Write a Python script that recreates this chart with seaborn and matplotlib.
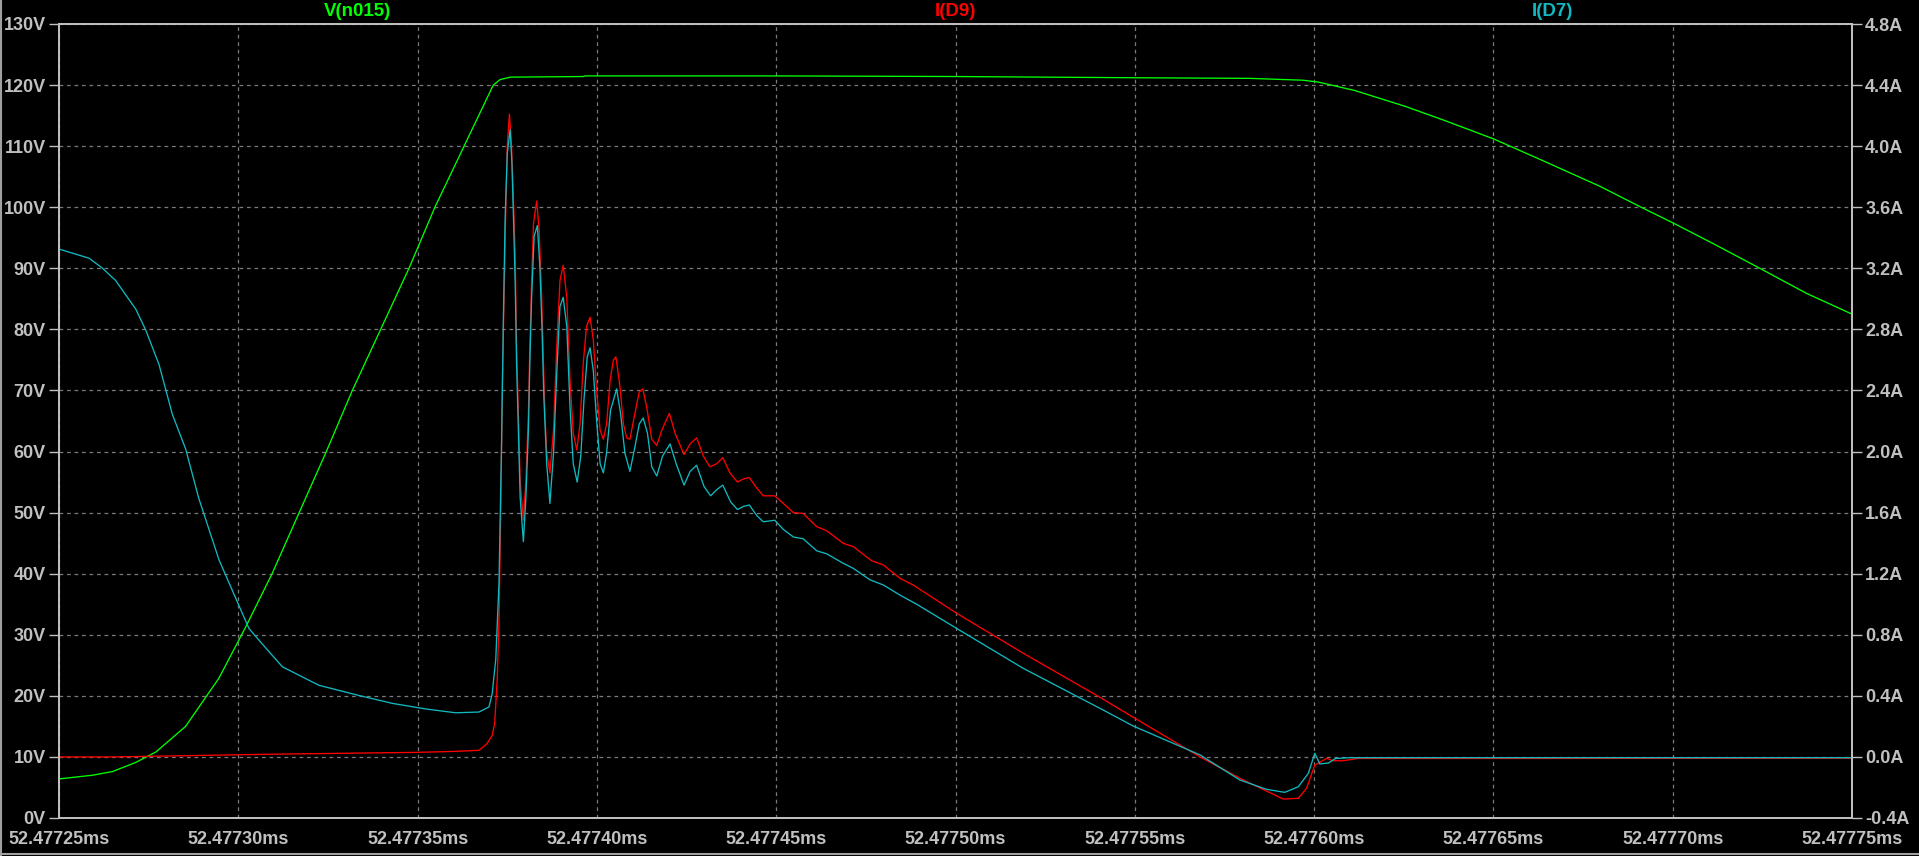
import matplotlib
matplotlib.use("Agg")
import matplotlib.pyplot as plt
from matplotlib.ticker import FuncFormatter, MultipleLocator
from matplotlib.lines import Line2D
import numpy as np
import pandas as pd
import seaborn as sns

# time is in ns after 52.47725ms
T0_MS = 52.47725

v_t = [0, 9.3, 14.9, 21.4, 27, 35.3, 44.6, 52, 59.5, 66.9, 74.4, 81.8, 89.7,
       97.6, 104.9, 112.8, 121.1, 123, 125.8, 146.2, 146.7, 200, 250, 300,
       332, 346.8, 351.1, 361.4, 375.5, 386.4, 400, 413.5, 429.8, 441.2,
       450.2, 462.4, 474.3, 487.3, 500]
v_n015 = [6.4, 7.0, 7.6, 9.1, 10.8, 15.0, 22.9, 31.2, 40.1, 49.9, 59.8, 70.0,
          80.0, 90.0, 100.1, 109.8, 120.0, 120.9, 121.3, 121.4, 121.5, 121.5,
          121.4, 121.2, 121.1, 120.8, 120.5, 119.1, 116.5, 114.2, 111.2,
          107.7, 103.4, 100.0, 97.4, 93.7, 90.0, 85.9, 82.5]

d9_t = [0, 15, 40, 60, 100, 110, 117.1, 119.2, 120.8, 121.5, 122.2, 122.7,
        123.2, 123.6, 124.1, 124.6, 125.0, 125.6, 126.2, 126.7, 127.2, 127.6,
        128.1, 128.6, 129.5, 130.2, 130.9, 131.3, 131.8, 132.3, 133.2, 133.9,
        134.6, 135.1, 135.5, 136.0, 136.9, 137.9, 138.8, 139.7, 140.6, 141.6,
        142.5, 143.4, 144.4, 145.3, 146.2, 147.1, 148.1, 149.0, 149.9, 150.9,
        151.8, 152.7, 153.7, 154.6, 155.3, 156.4, 157.4, 158.3, 159.2, 160.6,
        161.8, 162.8, 163.9, 165.3, 166.7, 168.1, 170.2, 171.8, 174.3, 176.0,
        177.8, 179.7, 181.5, 183.4, 185.1, 187.1, 189.2, 190.8, 192.5, 194.6,
        196.4, 199.6, 202.0, 204.8, 207.5, 211.3, 214.1, 218.7, 221.5, 226.6,
        229.9, 234.5, 238.2, 250.3, 268.9, 290.3, 299.6, 318.2, 329.3, 341.4,
        345.6, 347.9, 350.2, 351.1, 353.5, 355.3, 358.1, 362, 403, 500]
d9_i = [0.0, 0.0, 0.01, 0.018, 0.030, 0.036, 0.043, 0.083, 0.14, 0.22, 0.51,
        0.89, 1.64, 2.39, 3.0, 3.6, 4.0, 4.21, 4.0, 3.67, 3.3, 2.69, 2.25,
        1.81, 1.55, 1.81, 2.25, 2.69, 3.12, 3.49, 3.64, 3.45, 3.01, 2.58, 2.25,
        1.99, 1.86, 2.14, 2.69, 3.12, 3.22, 3.01, 2.47, 2.12, 2.01, 2.18, 2.58,
        2.82, 2.88, 2.73, 2.40, 2.14, 2.08, 2.18, 2.47, 2.60, 2.62, 2.43, 2.18,
        2.09, 2.08, 2.25, 2.39, 2.41, 2.29, 2.08, 2.04, 2.14, 2.25, 2.12, 1.98,
        2.05, 2.09, 1.97, 1.90, 1.92, 1.96, 1.86, 1.80, 1.82, 1.83, 1.76, 1.71,
        1.71, 1.66, 1.60, 1.595, 1.508, 1.481, 1.399, 1.377, 1.285, 1.257,
        1.17, 1.126, 0.941, 0.679, 0.39, 0.259, 0.0, -0.14, -0.276, -0.271,
        -0.205, -0.053, -0.042, -0.009, -0.025, -0.025, -0.01, -0.01, -0.008]

d7_t = [0, 8.4, 12.1, 15.8, 21.4, 24.2, 27.9, 31.6, 35.3, 39, 41.8, 44.6,
        50.2, 53, 57.6, 62.3, 72.5, 83.7, 92.9, 102.3, 110.6, 117.1, 119.9,
        120.8, 121.8, 122.7, 123.4, 123.9, 124.4, 125.0, 125.8, 126.3, 126.7,
        127.2, 127.6, 128.1, 128.6, 129.5, 130.2, 130.9, 131.3, 131.8, 132.5,
        133.4, 134.1, 134.7, 135.2, 136.0, 136.9, 137.9, 138.8, 139.7, 140.6,
        141.6, 142.5, 143.4, 144.5, 145.5, 146.4, 147.3, 148.1, 149.0, 149.9,
        150.9, 151.8, 152.7, 153.8, 155.5, 156.6, 157.8, 159.2, 160.6, 161.8,
        162.9, 164.1, 165.3, 166.7, 168.3, 170.4, 172.1, 174.3, 176.0, 177.8,
        179.9, 181.7, 183.4, 185.1, 187.3, 189.2, 190.8, 192.5, 194.6, 196.4,
        199.6, 202.0, 204.8, 207.5, 211.3, 214.1, 218.7, 221.5, 226.2, 229.9,
        234.5, 239.1, 250.3, 268.9, 290.3, 299.6, 318.2, 329.3, 336.7, 341.8,
        345.6, 348.4, 350.2, 351.6, 354, 356, 360, 500]
d7_i = [3.326, 3.266, 3.201, 3.12, 2.933, 2.795, 2.569, 2.244, 2.018, 1.692,
        1.492, 1.292, 0.99, 0.84, 0.715, 0.59, 0.469, 0.402, 0.351, 0.314,
        0.289, 0.294, 0.327, 0.414, 0.64, 1.14, 2.03, 2.84, 3.52, 3.95, 4.11,
        3.89, 3.56, 3.12, 2.58, 2.14, 1.70, 1.41, 1.70, 2.14, 2.58, 3.01, 3.41,
        3.48, 3.21, 2.80, 2.36, 1.92, 1.66, 1.99, 2.51, 2.95, 3.01, 2.82, 2.29,
        1.92, 1.80, 1.97, 2.34, 2.62, 2.68, 2.53, 2.21, 1.92, 1.86, 1.99, 2.27,
        2.41, 2.25, 1.99, 1.87, 2.03, 2.18, 2.22, 2.12, 1.90, 1.84, 1.97, 2.05,
        1.92, 1.78, 1.87, 1.91, 1.77, 1.71, 1.75, 1.78, 1.67, 1.62, 1.64, 1.65,
        1.58, 1.54, 1.55, 1.49, 1.44, 1.429, 1.35, 1.33, 1.268, 1.235, 1.159,
        1.126, 1.06, 1.001, 0.842, 0.58, 0.318, 0.202, 0.013, -0.151, -0.212,
        -0.232, -0.195, -0.107, 0.024, -0.046, -0.04, -0.01, -0.005, -0.005]

trace_names = ["V(n015)", "I(D9)", "I(D7)"]

GREEN = "#00ff00"
RED = "#ff0000"
CYAN = "#10b8c0"
FG = "#c0c0c0"
GRID = "#7a7a7a"

sns.set_theme(style="dark", rc={
    "figure.facecolor": "black",
    "axes.facecolor": "black",
    "axes.edgecolor": FG,
    "xtick.color": FG,
    "ytick.color": FG,
})
plt.rcParams["font.family"] = ["Liberation Sans", "DejaVu Sans"]

W, H = 1919, 856
fig = plt.figure(figsize=(W / 100, H / 100), dpi=100)
ax = fig.add_axes([59 / W, 38 / H, 1793 / W, 794 / H])
ax2 = ax.twinx()

df_v = pd.DataFrame({"t": v_t, "v": v_n015})
df_d9 = pd.DataFrame({"t": d9_t, "i": d9_i})
df_d7 = pd.DataFrame({"t": d7_t, "i": d7_i})

sns.lineplot(data=df_v, x="t", y="v", ax=ax, color=GREEN, lw=0.95,
             estimator=None, sort=False)
sns.lineplot(data=df_d9, x="t", y="i", ax=ax2, color=RED, lw=0.95,
             estimator=None, sort=False)
sns.lineplot(data=df_d7, x="t", y="i", ax=ax2, color=CYAN, lw=0.95,
             estimator=None, sort=False)

ax.set_xlim(0, 500)
ax.set_ylim(0, 130)
ax2.set_ylim(-0.4, 4.8)
ax.xaxis.set_major_locator(MultipleLocator(50))
ax.yaxis.set_major_locator(MultipleLocator(10))
ax2.set_yticks(np.round(np.arange(-0.4, 4.81, 0.4), 1))

ax.xaxis.set_major_formatter(FuncFormatter(lambda t, p: f"{T0_MS + t * 1e-6:.5f}ms"))
ax.yaxis.set_major_formatter(FuncFormatter(lambda v, p: f"{v:.0f}V"))
ax2.yaxis.set_major_formatter(
    FuncFormatter(lambda v, p: f"{0.0 if abs(v) < 1e-9 else v:.1f}A"))

for a in (ax, ax2):
    a.set_xlabel("")
    a.set_ylabel("")
    for s in a.spines.values():
        s.set_color(FG)
        s.set_linewidth(1.3)
    a.tick_params(which="major", direction="out", length=7.5, width=1.0,
                  color=FG, labelcolor=FG, pad=2)
    for lab in a.get_xticklabels() + a.get_yticklabels():
        lab.set_fontsize(13)
        lab.set_fontweight("bold")

ax.grid(True, color=GRID, linestyle=(0, (3, 3)), linewidth=0.9)
ax2.grid(False)

# trace names across the top
for name, col, xc in zip(trace_names, [GREEN, RED, CYAN], [357, 955, 1552]):
    fig.text(xc / W, 1 - 12 / H, name, color=col, fontsize=13.5,
             fontweight="bold", ha="center", va="center")

# window border
fig.add_artist(Line2D([1 / W, 1 / W], [0, 1], color="#a0a0a0", lw=1.5,
                      transform=fig.transFigure))
fig.add_artist(Line2D([0, 1], [2 / H, 2 / H], color="#a0a0a0", lw=1.5,
                      transform=fig.transFigure))

fig.savefig("out.png", dpi=100, facecolor="black")
